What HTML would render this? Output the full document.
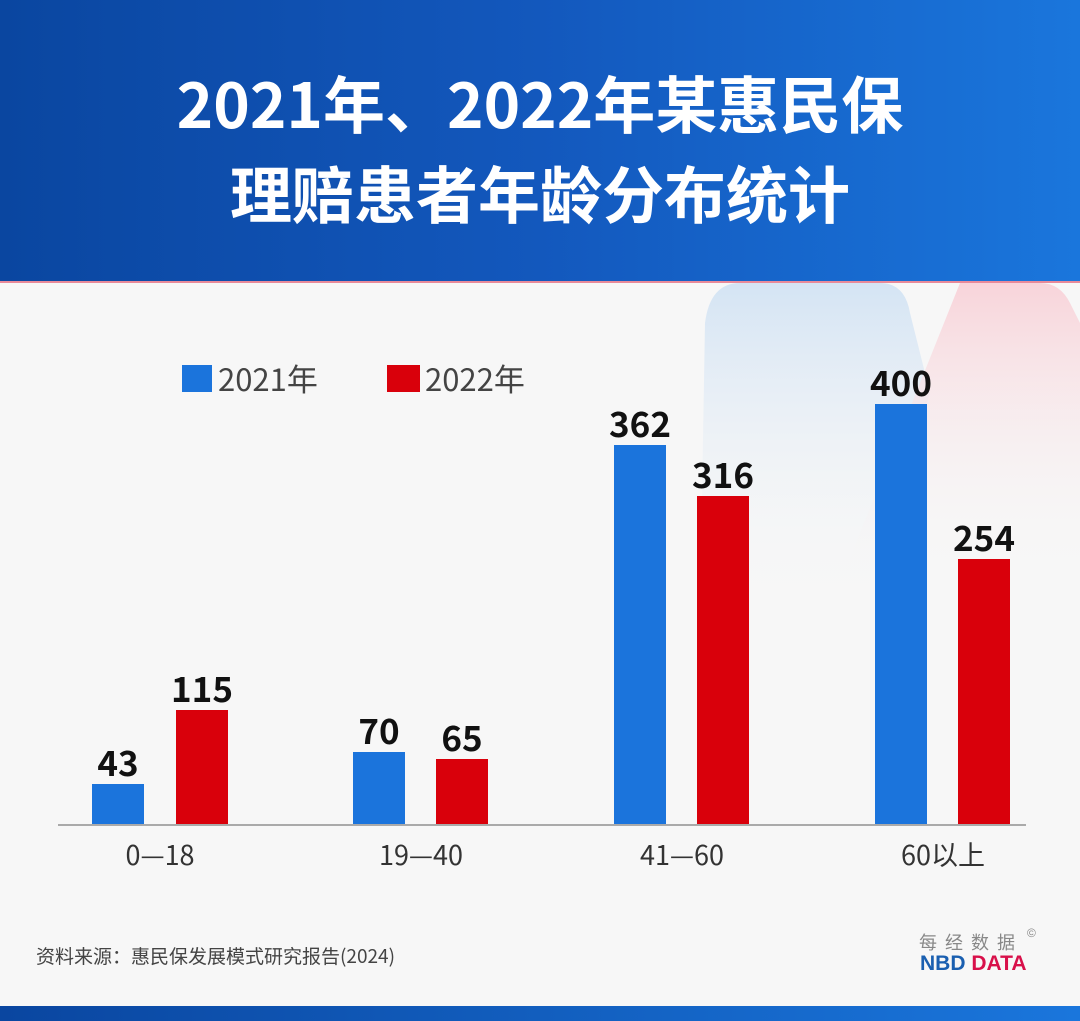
<!DOCTYPE html>
<html><head><meta charset="utf-8"><style>
*{margin:0;padding:0}
body{width:1080px;height:1021px;position:relative;overflow:hidden;background:#f7f7f7;font-family:"Liberation Sans","Noto Sans CJK SC",sans-serif}
.hdr{position:absolute;left:0;top:0;width:1080px;height:281px;background:linear-gradient(90deg,#0a46a0 0%,#1358bd 50%,#1a76dc 100%);border-bottom:2px solid #e88a9a}
.t{position:absolute;left:0;width:1080px;text-align:center;color:#fff;font-weight:bold;font-size:62px;font-family:"Noto Sans CJK SC",sans-serif;line-height:1}
.bar{position:absolute;width:52px}
.b{background:#1b74dc}.r{background:#d9000b}
.v{position:absolute;width:120px;text-align:center;font-weight:bold;font-size:35px;color:#111;font-family:"Noto Sans CJK SC",sans-serif}
.x{position:absolute;width:200px;text-align:center;font-size:27px;color:#333;top:836px;font-family:"Noto Sans CJK SC",sans-serif;line-height:36px}
</style></head><body>
<div class="hdr"></div>
<div class="t" style="top:70px">2021年、2022年某惠民保</div>
<div class="t" style="top:160px">理赔患者年龄分布统计</div>
<svg style="position:absolute;left:0;top:283px" width="1080" height="560">
<defs><linearGradient id="gb" x1="0" y1="0" x2="0" y2="1"><stop offset="0" stop-color="#d4e4f4"/><stop offset="1" stop-color="#f7f7f7" stop-opacity="0"/></linearGradient>
<linearGradient id="gr" x1="0" y1="0" x2="0" y2="1"><stop offset="0" stop-color="#f8d4da"/><stop offset="1" stop-color="#f7f7f7" stop-opacity="0"/></linearGradient></defs>
<path d="M720 0 L880 0 Q905 0 910 30 L930 110 L860 330 L700 330 L705 40 Q710 0 740 0Z" fill="url(#gb)"/>
<path d="M960 0 L1040 0 Q1060 0 1070 20 L1080 40 L1080 300 L840 300 Z" fill="url(#gr)"/>
</svg>
<div style="position:absolute;left:182px;top:365px;width:30px;height:27px;background:#1b74dc"></div>
<div style="position:absolute;left:218px;top:358px;font-size:31px;color:#444;font-family:'Noto Sans CJK SC',sans-serif;line-height:40px">2021年</div>
<div style="position:absolute;left:387px;top:365px;width:33px;height:27px;background:#d9000b"></div>
<div style="position:absolute;left:425px;top:358px;font-size:31px;color:#444;font-family:'Noto Sans CJK SC',sans-serif;line-height:40px">2022年</div>

<div class="bar b" style="left:92px;top:784px;height:41px"></div>
<div class="bar r" style="left:176px;top:710px;height:115px"></div>
<div class="bar b" style="left:353px;top:752px;height:73px"></div>
<div class="bar r" style="left:436px;top:759px;height:66px"></div>
<div class="bar b" style="left:614px;top:445px;height:380px"></div>
<div class="bar r" style="left:697px;top:496px;height:329px"></div>
<div class="bar b" style="left:875px;top:404px;height:421px"></div>
<div class="bar r" style="left:958px;top:559px;height:266px"></div>
<div style="position:absolute;left:58px;top:824px;width:968px;height:2px;background:#aaa"></div>

<div class="v" style="left:58px;top:736px">43</div>
<div class="v" style="left:142px;top:662px">115</div>
<div class="v" style="left:319px;top:704px">70</div>
<div class="v" style="left:402px;top:711px">65</div>
<div class="v" style="left:580px;top:397px">362</div>
<div class="v" style="left:663px;top:448px">316</div>
<div class="v" style="left:841px;top:356px">400</div>
<div class="v" style="left:924px;top:511px">254</div>

<div class="x" style="left:60px">0—18</div>
<div class="x" style="left:321px">19—40</div>
<div class="x" style="left:582px">41—60</div>
<div class="x" style="left:843px">60以上</div>

<div style="position:absolute;left:36px;top:943px;font-size:19px;color:#444;font-family:'Noto Sans CJK SC',sans-serif;line-height:26px">资料来源：惠民保发展模式研究报告(2024)</div>
<div style="position:absolute;left:919px;top:931px;font-size:18px;color:#888;letter-spacing:8px;line-height:24px">每经数据</div>
<div style="position:absolute;left:1027px;top:926px;font-size:12px;color:#888">©</div>
<div style="position:absolute;left:920px;top:952px;font-size:21px;font-weight:bold"><span style="color:#1a5fb0">NBD</span> <span style="color:#d8104a">DATA</span></div>
<div style="position:absolute;left:0;top:1006px;width:1080px;height:15px;background:linear-gradient(90deg,#0a46a0,#1a76dc)"></div>
</body></html>
